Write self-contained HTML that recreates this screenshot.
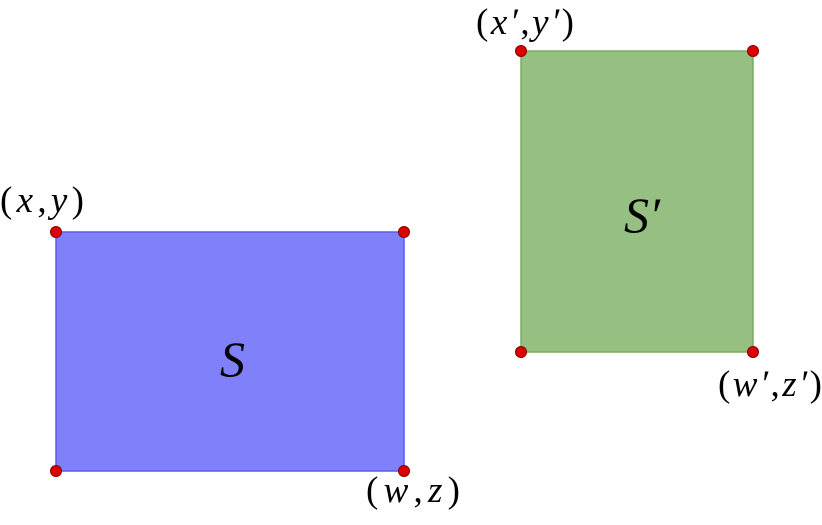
<!DOCTYPE html>
<html><head><style>html,body{margin:0;padding:0;background:#fff}</style></head>
<body>
<svg width="822" height="520" viewBox="0 0 822 520" xmlns="http://www.w3.org/2000/svg" font-family="Liberation Serif, serif" font-size="37">
<rect x="56" y="232" width="348" height="239" fill="#8080fa" stroke="#5a5aef" stroke-width="1.5"/>
<rect x="521" y="51" width="232" height="301" fill="#96bf82" stroke="#7aab63" stroke-width="1.5"/>
<g fill="#dd0000" stroke="#880000" stroke-width="1">
<circle cx="56" cy="232" r="5.5"/><circle cx="404" cy="232" r="5.5"/>
<circle cx="56" cy="471" r="5.5"/><circle cx="404" cy="471" r="5.5"/>
<circle cx="521" cy="51" r="5.5"/><circle cx="753" cy="51" r="5.5"/>
<circle cx="521" cy="352" r="5.5"/><circle cx="753" cy="352" r="5.5"/>
</g>
<text x="0" y="212" textLength="84" lengthAdjust="spacing">(<tspan font-style="italic">x</tspan>,<tspan font-style="italic">y</tspan>)</text>
<text x="366" y="502" textLength="94" lengthAdjust="spacing">(<tspan font-style="italic">w</tspan>,<tspan font-style="italic">z</tspan>)</text>
<text x="476" y="34" textLength="98" lengthAdjust="spacing">(<tspan font-style="italic">x′</tspan>,<tspan font-style="italic">y′</tspan>)</text>
<text x="718" y="396" textLength="104" lengthAdjust="spacing">(<tspan font-style="italic">w′</tspan>,<tspan font-style="italic">z′</tspan>)</text>
<text x="220" y="376" font-size="50" font-style="italic">S</text>
<text x="624" y="232" font-size="50" font-style="italic">S′</text>
</svg>
</body></html>
